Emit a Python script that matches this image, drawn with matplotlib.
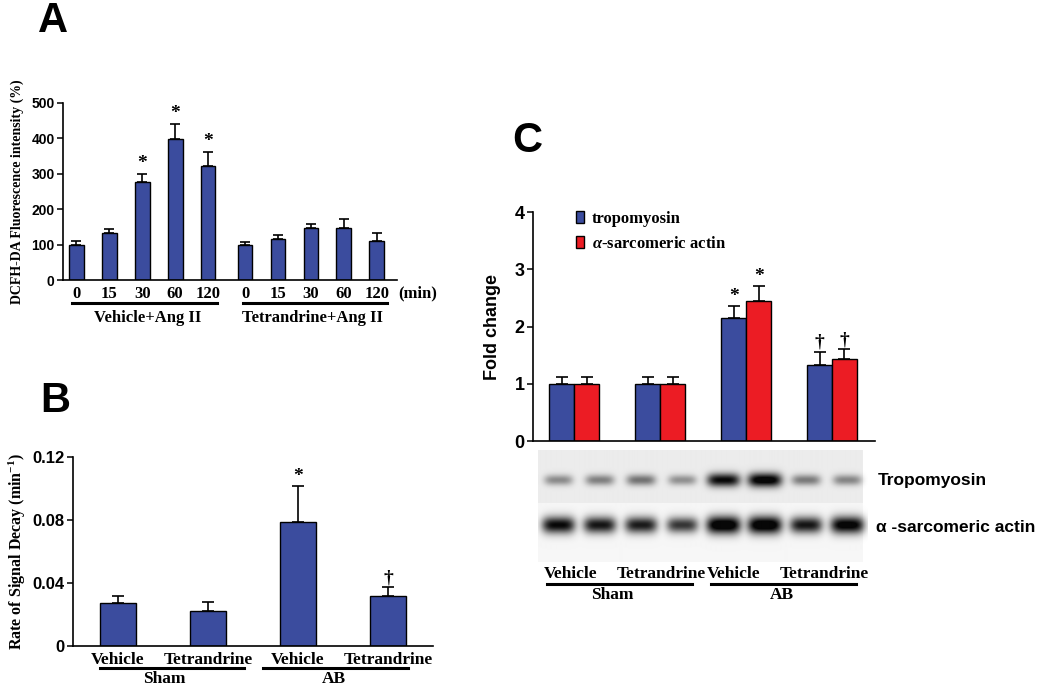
import numpy as np
import matplotlib
matplotlib.use('Agg')
import matplotlib.pyplot as plt
from matplotlib.lines import Line2D
from matplotlib.patches import Patch

plt.rcParams['mathtext.fontset'] = 'custom'
plt.rcParams['mathtext.rm'] = 'Liberation Serif:bold'
plt.rcParams['mathtext.it'] = 'Liberation Serif:italic:bold'
plt.rcParams['mathtext.default'] = 'regular'

# ---------------- data ----------------
# Panel A
a_times = ['0', '15', '30', '60', '120']
a_vehicle = [100, 133, 278, 397, 322]
a_vehicle_err = [9, 12, 22, 44, 40]
a_vehicle_marks = ['', '', '*', '*', '*']
a_tet = [100, 115, 146, 146, 110]
a_tet_err = [8, 12, 12, 26, 22]
a_groups = ['Vehicle+Ang II', 'Tetrandrine+Ang II']
a_yticks = [0, 100, 200, 300, 400, 500]

# Panel B
b_labels = ['Vehicle', 'Tetrandrine', 'Vehicle', 'Tetrandrine']
b_values = [0.027, 0.0225, 0.079, 0.0315]
b_err = [0.0047, 0.0057, 0.0224, 0.0057]
b_marks = ['', '', '*', '\u2020']
b_groups = ['Sham', 'AB']
b_yticks = [0, 0.04, 0.08, 0.12]
b_yticklabels = ['0', '0.04', '0.08', '0.12']

# Panel C
c_tropo = [1.0, 1.0, 2.14, 1.32]
c_tropo_err = [0.11, 0.11, 0.22, 0.23]
c_actin = [1.0, 1.0, 2.44, 1.43]
c_actin_err = [0.11, 0.11, 0.26, 0.17]
c_marks = ['', '', '*', '\u2020']
c_yticks = [0, 1, 2, 3, 4]
c_series = ['tropomyosin', r'$\mathit{\alpha}$-sarcomeric actin']

# Western blot band darkness per lane (8 lanes)
blot_tropo = [0.36, 0.40, 0.45, 0.34, 0.85, 0.95, 0.42, 0.38]
blot_actin = [0.85, 0.80, 0.78, 0.68, 1.00, 1.00, 0.80, 0.92]
blot_rows = ['Tropomyosin', '\u03b1 -sarcomeric actin']

# ---------------- layout helpers ----------------
W, H = 1039, 687
fig = plt.figure(figsize=(W / 100, H / 100), dpi=100)
fig.patch.set_facecolor('white')


def box(l, t, r, b):
    return [l / W, 1 - b / H, (r - l) / W, (b - t) / H]


def fx(x):
    return x / W


def fy(y):
    return 1 - y / H


SERIF = 'Liberation Serif'
SANS = 'Liberation Sans'
BLUE = '#3B4C9E'
RED = '#EC1C24'


def style_axes(ax):
    for s in ['top', 'right']:
        ax.spines[s].set_visible(False)
    for s in ['left', 'bottom']:
        ax.spines[s].set_linewidth(1.2)
    ax.tick_params(axis='y', direction='out', length=4, width=1.1, pad=2)
    ax.tick_params(axis='x', length=0)


def hline(x0, x1, y, lw=2.2):
    fig.add_artist(Line2D([fx(x0), fx(x1)], [fy(y), fy(y)], color='black', lw=lw))


def ftext(x, y, s, **kw):
    fig.text(fx(x), fy(y), s, **kw)


def mark(ax, x, top, s, size=14, dy=1):
    if s:
        ax.annotate(s, (x, top), xytext=(0, dy), textcoords='offset points',
                    ha='center', va='bottom', fontsize=size,
                    fontfamily=SERIF, fontweight='bold')


# ---------------- Panel A ----------------
axA = fig.add_axes(box(63, 103, 397, 280))
style_axes(axA)
posA1 = np.arange(5)
posA2 = np.arange(5) + 5.12
wA = 0.45
axA.bar(posA1, a_vehicle, wA, color=BLUE, edgecolor='black', linewidth=1.0, zorder=2)
axA.bar(posA2, a_tet, wA, color=BLUE, edgecolor='black', linewidth=1.0, zorder=2)
axA.errorbar(posA1, a_vehicle, yerr=[np.zeros(5), a_vehicle_err], fmt='none',
             ecolor='black', elinewidth=1.2, capsize=3.5, capthick=1.2, zorder=3)
axA.errorbar(posA2, a_tet, yerr=[np.zeros(5), a_tet_err], fmt='none',
             ecolor='black', elinewidth=1.2, capsize=3.5, capthick=1.2, zorder=3)
for x, v, e, m in zip(posA1, a_vehicle, a_vehicle_err, a_vehicle_marks):
    mark(axA, x, v + e, m, size=14)
axA.set_xlim(-0.4, 9.73)
axA.set_ylim(0, 500)
axA.set_yticks(a_yticks, [str(t) for t in a_yticks], fontfamily=SANS,
               fontweight='bold', fontsize=10)
axA.set_xticks(np.r_[posA1, posA2], a_times * 2, fontfamily=SERIF,
               fontweight='bold', fontsize=12)
axA.tick_params(axis='x', pad=4)
axA.set_ylabel('DCFH-DA Fluorescence intensity (%)', fontfamily=SERIF,
               fontweight='bold', fontsize=10, labelpad=5)
ftext(398, 293, '(min)', ha='left', va='center', fontfamily=SERIF,
      fontweight='bold', fontsize=12)
hline(72, 217, 303)
hline(243, 387, 303)
ftext(148, 318, a_groups[0], ha='center', va='center', fontfamily=SERIF,
      fontweight='bold', fontsize=12)
ftext(312, 318, a_groups[1], ha='center', va='center', fontfamily=SERIF,
      fontweight='bold', fontsize=12)

# ---------------- Panel B ----------------
axB = fig.add_axes(box(73, 457, 433, 646))
style_axes(axB)
posB = np.arange(4)
axB.bar(posB, b_values, 0.41, color=BLUE, edgecolor='black', linewidth=1.0, zorder=2)
axB.errorbar(posB, b_values, yerr=[np.zeros(4), b_err], fmt='none',
             ecolor='black', elinewidth=1.2, capsize=4, capthick=1.2, zorder=3)
for x, v, e, m in zip(posB, b_values, b_err, b_marks):
    mark(axB, x, v + e, m, size=14)
axB.set_xlim(-0.5, 3.5)
axB.set_ylim(0, 0.12)
axB.set_yticks(b_yticks, b_yticklabels, fontfamily=SANS, fontweight='bold', fontsize=12)
axB.set_xticks(posB, b_labels, fontfamily=SERIF, fontweight='bold', fontsize=12.5)
axB.tick_params(axis='x', pad=4)
axB.set_ylabel(r'Rate of Signal Decay (min$^{-1}$)', fontfamily=SERIF,
               fontweight='bold', fontsize=11.5, labelpad=3)
hline(100, 244, 668)
hline(263, 408, 668)
ftext(164, 679, b_groups[0], ha='center', va='center', fontfamily=SERIF,
      fontweight='bold', fontsize=12.5)
ftext(334, 679, b_groups[1], ha='center', va='center', fontfamily=SERIF,
      fontweight='bold', fontsize=12.5)

# ---------------- Panel C ----------------
axC = fig.add_axes(box(533, 212, 875, 441))
style_axes(axC)
posC = np.arange(4)
wC = 0.29
axC.bar(posC - wC / 2, c_tropo, wC, color=BLUE, edgecolor='black', linewidth=1.0, zorder=2)
axC.bar(posC + wC / 2, c_actin, wC, color=RED, edgecolor='black', linewidth=1.0, zorder=2)
axC.errorbar(posC - wC / 2, c_tropo, yerr=[np.zeros(4), c_tropo_err], fmt='none',
             ecolor='black', elinewidth=1.2, capsize=4, capthick=1.2, zorder=3)
axC.errorbar(posC + wC / 2, c_actin, yerr=[np.zeros(4), c_actin_err], fmt='none',
             ecolor='black', elinewidth=1.2, capsize=4, capthick=1.2, zorder=3)
for x, v, e, m in zip(posC - wC / 2, c_tropo, c_tropo_err, c_marks):
    mark(axC, x, v + e, m, size=14)
for x, v, e, m in zip(posC + wC / 2, c_actin, c_actin_err, c_marks):
    mark(axC, x, v + e, m, size=14)
axC.set_xlim(-0.48, 3.5)
axC.set_ylim(0, 4)
axC.set_yticks(c_yticks, [str(t) for t in c_yticks], fontfamily=SANS,
               fontweight='bold', fontsize=13)
axC.set_xticks([])
axC.set_ylabel('Fold change', fontfamily=SANS, fontweight='bold', fontsize=13, labelpad=10)
handles = [Patch(facecolor=BLUE, edgecolor='black'), Patch(facecolor=RED, edgecolor='black')]
axC.legend(handles, c_series, loc='upper left', bbox_to_anchor=(fx(576), fy(211)),
           bbox_transform=fig.transFigure, frameon=False, borderpad=0,
           borderaxespad=0, handlelength=0.5, handleheight=0.75,
           handletextpad=0.45, labelspacing=0.55,
           prop={'family': SERIF, 'weight': 'bold', 'size': 12})

# ---------------- Western blot ----------------
axW = fig.add_axes(box(538, 450, 868, 562))
nl = len(blot_tropo)
ncol, nrow = nl * 41, 112
xs = (np.arange(ncol) + 0.5) / 41.0
ys = np.arange(nrow) + 0.5
X, Y = np.meshgrid(xs, ys)
img = np.where(Y < 53, 0.925, 0.965)
img = np.where(X > 7.88, 1.0, img)
for i in range(nl):
    c = i + 0.5
    for d, row, sy in ((blot_tropo[i], 30, 6.0), (blot_actin[i], 75, 7.5)):
        syy = sy * (0.7 + 0.5 * d)
        sx = 0.38 * (0.8 + 0.3 * d)
        prof = np.exp(-((X - c) / sx) ** 4) * np.exp(-((Y - row) / syy) ** 2)
        dark = np.clip(1.15 * d * prof, 0, 0.97)
        img = img * (1 - dark)
axW.imshow(img, cmap='gray', vmin=0, vmax=1, extent=(0, nl, nrow, 0),
           aspect='auto', interpolation='bilinear')
axW.set_xlim(0, nl)
axW.set_ylim(nrow, 0)
for s in axW.spines.values():
    s.set_visible(False)
axW.set_yticks([])
axW.set_xticks([0.8, 3.0, 4.75, 6.95], b_labels, fontfamily=SERIF,
               fontweight='bold', fontsize=12.5)
axW.tick_params(axis='x', length=0, pad=3)
ftext(878, 480, blot_rows[0], ha='left', va='center', fontfamily=SANS,
      fontweight='bold', fontsize=12.5)
ftext(876, 527, blot_rows[1], ha='left', va='center', fontfamily=SANS,
      fontweight='bold', fontsize=12.5)
hline(547, 692, 584)
hline(711, 856, 584)
ftext(612, 595, b_groups[0], ha='center', va='center', fontfamily=SERIF,
      fontweight='bold', fontsize=12.5)
ftext(782, 595, b_groups[1], ha='center', va='center', fontfamily=SERIF,
      fontweight='bold', fontsize=12.5)

# ---------------- panel letters ----------------
for (x, y, s) in ((53, 32, 'A'), (55, 412, 'B'), (527, 152, 'C')):
    ftext(x, y, s, ha='center', va='baseline', fontfamily=SANS,
          fontweight='bold', fontsize=30)

fig.savefig('out.png', dpi=100, facecolor='white')
